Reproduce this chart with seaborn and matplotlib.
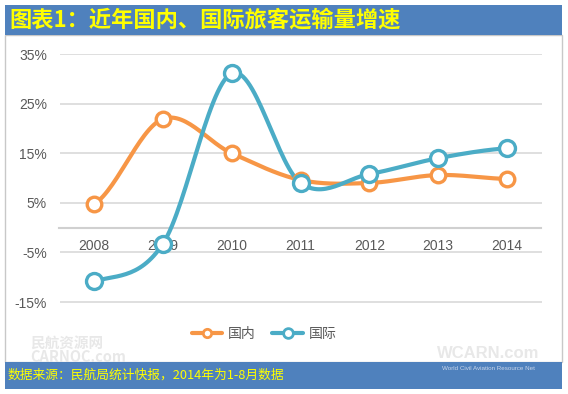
import numpy as np
import pandas as pd
import matplotlib
matplotlib.use("Agg")
import matplotlib.pyplot as plt
from matplotlib.lines import Line2D
from matplotlib.patches import Rectangle
import seaborn as sns

# ── DATA ────────────────────────────────────────────────────
years = ["2008", "2009", "2010", "2011", "2012", "2013", "2014"]
domestic = [4.7, 21.9, 15.0, 9.6, 9.0, 10.6, 9.8]
international = [-10.8, -3.3, 31.1, 9.0, 10.8, 14.0, 16.0]
yticks = [-15, -5, 5, 15, 25, 35]

title = "图表1：近年国内、国际旅客运输量增速"
source = "数据来源：民航局统计快报，2014年为1-8月数据"

ORANGE = "#F79646"
BLUE = "#4BACC6"
BAR = "#4F81BD"

sns.set_theme(style="white")
plt.rcParams["font.family"] = ["Liberation Sans", "Noto Sans CJK SC", "DejaVu Sans"]


def smooth(vals, n=30):
    # catmull-rom curve through the points (like Excel's smoothed line)
    p = np.array(vals, dtype=float)
    xs, ys = [], []
    for i in range(len(p) - 1):
        p0 = p[i - 1] if i > 0 else p[i]
        p1, p2 = p[i], p[i + 1]
        p3 = p[i + 2] if i + 2 < len(p) else p[i + 1]
        t = np.linspace(0, 1, n, endpoint=False)
        y = 0.5 * (2 * p1 + (-p0 + p2) * t
                   + (2 * p0 - 5 * p1 + 4 * p2 - p3) * t ** 2
                   + (-p0 + 3 * p1 - 3 * p2 + p3) * t ** 3)
        xs.extend(i + t)
        ys.extend(y)
    xs.append(len(p) - 1)
    ys.append(p[-1])
    return np.array(xs), np.array(ys)


fig = plt.figure(figsize=(5.68, 3.94), dpi=100)

# frame, title bar, footer bar
fig.patches.append(Rectangle((5 / 568, 1 - 362 / 394), 557 / 568, 327 / 394,
                             transform=fig.transFigure, facecolor="white",
                             edgecolor="#C8C8C8", linewidth=1, zorder=-5))
fig.patches.append(Rectangle((5 / 568, 1 - 35 / 394), 557 / 568, 30 / 394,
                             transform=fig.transFigure, facecolor=BAR,
                             edgecolor="none", zorder=-4))
fig.patches.append(Rectangle((5 / 568, 1 - 389 / 394), 557 / 568, 27 / 394,
                             transform=fig.transFigure, facecolor=BAR,
                             edgecolor="none", zorder=-4))
fig.text(9 / 568, 1 - 20 / 394, title, color="#FFFF00", fontsize=16,
         fontweight="bold", va="center", ha="left",
         family=["Noto Sans CJK SC", "DejaVu Sans"])
fig.text(8 / 568, 1 - 375 / 394, source, color="#FFFF00", fontsize=9.2,
         va="center", ha="left", family=["Noto Sans CJK SC", "DejaVu Sans"])

# faint watermarks
fig.text(30 / 568, 1 - 350 / 394, "民航资源网\nCARNOC.com", color="#E8E8E8",
         fontsize=10.5, fontweight="bold", va="center", ha="left",
         family=["Noto Sans CJK SC", "DejaVu Sans"], linespacing=0.9)
fig.text(488 / 568, 1 - 354 / 394, "WCARN.com", color="#E8E8E8",
         fontsize=12, fontweight="bold", va="center", ha="center")
fig.text(488 / 568, 1 - 369 / 394, "World Civil Aviation Resource Net",
         color="#C9D6EA", fontsize=4.5, va="center", ha="center")

# 50 units of y = 248 px; pad the bottom a little so the -15% grid line shows
ax = fig.add_axes([59.5 / 568, 1 - 304 / 394, 482 / 568, 250 / 394])
ax.set_facecolor("none")

for v, col, ms in [(domestic, ORANGE, 10.5), (international, BLUE, 11.5)]:
    sx, sy = smooth(v)
    sns.lineplot(x=sx, y=sy, ax=ax, color=col, linewidth=3, sort=False,
                 zorder=3)
    ax.plot(range(len(v)), v, linestyle="none", marker="o", markersize=ms,
            markerfacecolor="white", markeredgecolor=col,
            markeredgewidth=2.4, zorder=4, clip_on=False)

ax.set_xlim(-0.5, len(years) - 0.5)
ax.set_ylim(-15.4, 35)
ax.set_yticks(yticks)
ax.set_yticklabels([f"{t}%" for t in yticks])
ax.set_xticks(range(len(years)))
ax.set_xticklabels(years)
ax.set_axisbelow(True)
ax.yaxis.grid(True, color="#D6D6D6", linewidth=1.1)
ax.xaxis.grid(False)

for s in ["top", "right", "left"]:
    ax.spines[s].set_visible(False)
ax.spines["bottom"].set_position(("data", 0))
ax.spines["bottom"].set_color("#D0D0D0")
ax.spines["bottom"].set_linewidth(1.5)
ax.spines["bottom"].set_zorder(1)
ax.tick_params(axis="x", length=0, pad=8, labelsize=10, labelcolor="#595959")
ax.tick_params(axis="y", length=0, pad=9, labelsize=10, labelcolor="#595959")

handles = [
    Line2D([], [], color=ORANGE, linewidth=3, marker="o", markersize=6,
           markerfacecolor="white", markeredgecolor=ORANGE, markeredgewidth=2),
    Line2D([], [], color=BLUE, linewidth=3, marker="o", markersize=7,
           markerfacecolor="white", markeredgecolor=BLUE, markeredgewidth=2),
]
fig.legend(handles, ["国内", "国际"], loc="center",
           bbox_to_anchor=(264 / 568, 1 - 334 / 394), ncol=2, frameon=False,
           labelcolor="#595959", handlelength=2.2,
           handletextpad=0.4, columnspacing=1.2,
           prop={"family": ["Noto Sans CJK SC", "DejaVu Sans"], "size": 10})

fig.savefig("out.png", dpi=100)
